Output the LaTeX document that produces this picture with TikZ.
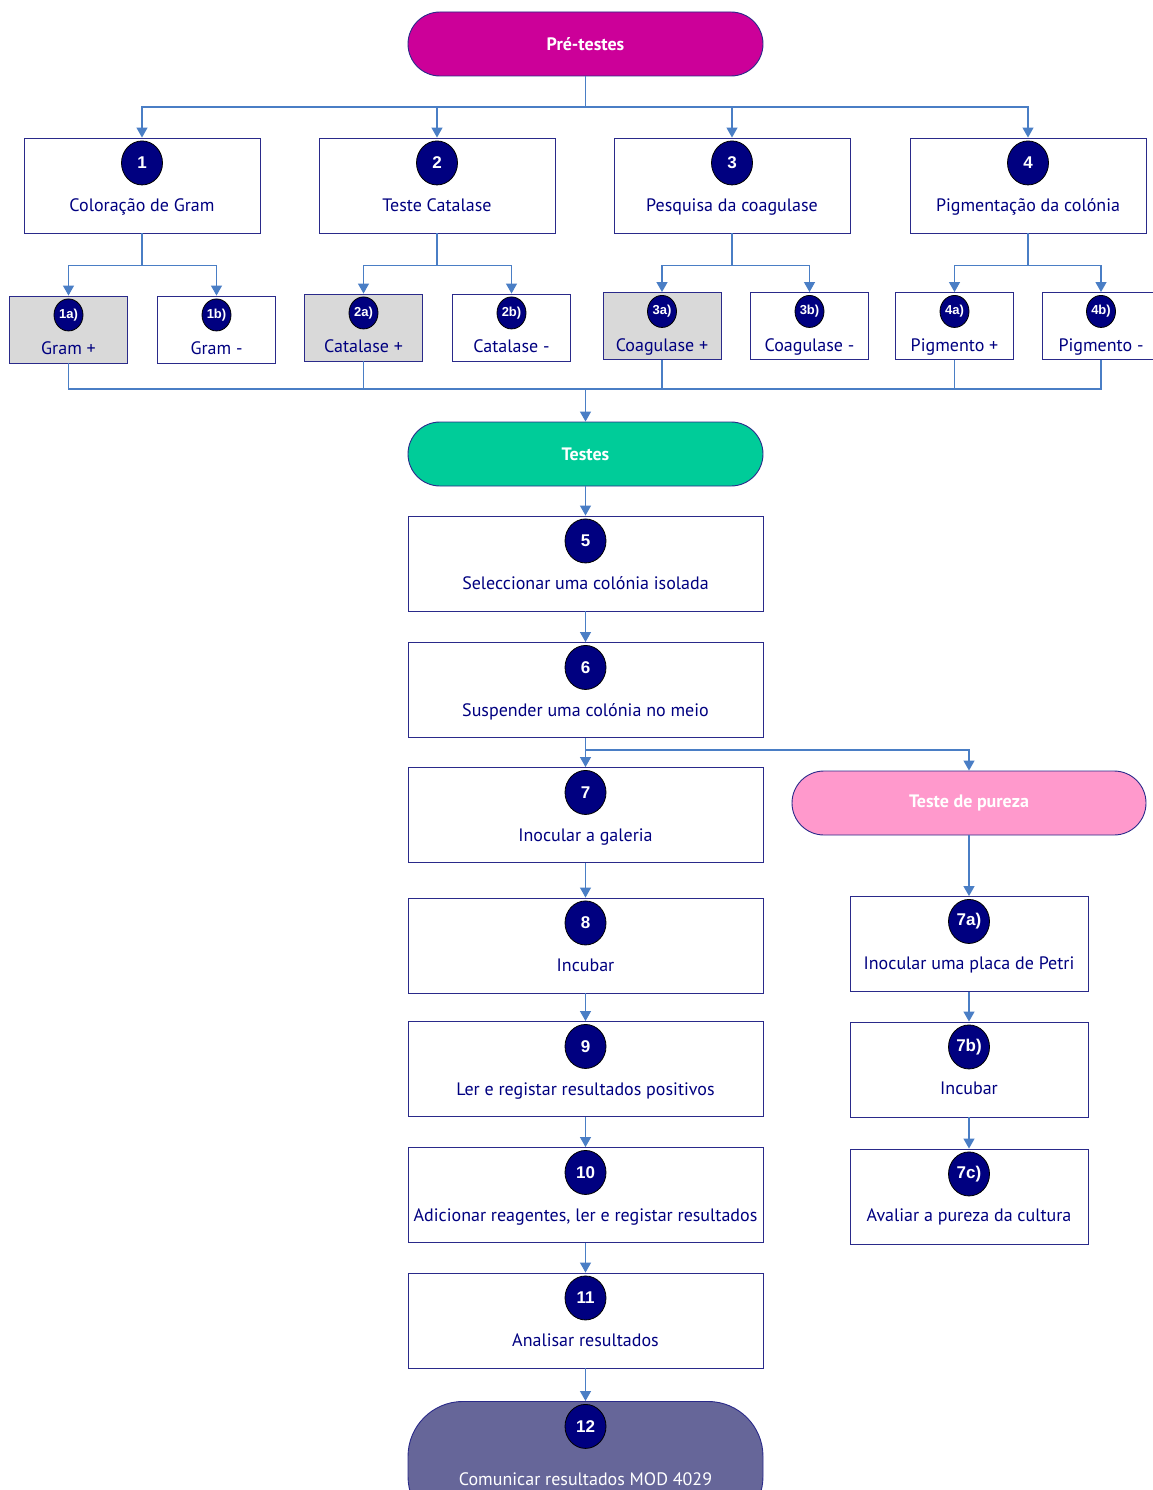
\documentclass[tikz,border=0pt]{standalone}
\usepackage{fontspec}
\setmainfont{PT Sans}
\newfontfamily\dotfont{Liberation Sans}
\usepackage{tikz}
\usetikzlibrary{arrows.meta,positioning,calc,shapes.geometric}
\definecolor{lbnavy}{HTML}{000080}
\definecolor{lbedge}{HTML}{2A2A8A}
\definecolor{lblink}{HTML}{4A7EC5}
\definecolor{lbgrey}{HTML}{D9D9D9}
\definecolor{lbmagenta}{HTML}{CC0099}
\definecolor{lbgreen}{HTML}{00CC99}
\definecolor{lbpink}{HTML}{FF99CC}
\definecolor{lbslate}{HTML}{666699}
\tikzset{
  flowarrow/.style={-{Triangle[length=10pt,width=11pt]}, line width=1.2pt, draw=lblink},
  flowline/.style={line width=1.2pt, draw=lblink},
  stepbox/.style={draw=lbedge, line width=0.9pt, fill=white, inner sep=0pt,
    minimum width=355pt, minimum height=95pt},
  subbox/.style={draw=lbedge, line width=0.9pt, fill=white, inner sep=0pt,
    minimum width=118pt, minimum height=67pt},
  hitbox/.style={subbox, fill=lbgrey},
  terminal/.style={draw=lbedge, line width=0.9pt, rounded corners=32pt, inner sep=0pt,
    minimum width=355pt, minimum height=64pt, text=white,
    font=\bfseries\fontsize{18}{20}\selectfont},
  numdot/.style={ellipse, draw=black, line width=0.8pt, fill=lbnavy, inner sep=0pt,
    minimum width=41pt, minimum height=44pt, text=white,
    font=\dotfont\bfseries\fontsize{17}{19}\selectfont},
  subdot/.style={numdot, minimum width=29pt, minimum height=32pt,
    font=\dotfont\bfseries\fontsize{13}{15}\selectfont},
  steptext/.style={inner sep=0pt, anchor=base, text=lbnavy, font=\fontsize{18}{20}\selectfont}
}
\begin{document}
\begin{tikzpicture}[x=1pt, y=-1pt]
\useasboundingbox (0,0) rectangle (1152,1490);

% pre-tests
\node[terminal, fill=lbmagenta] (pre) at (585.5,44) {Pré-testes};
\foreach \i/\x/\t in {1/142/{Coloração de Gram}, 2/437/{Teste Catalase},
    3/732/{Pesquisa da coagulase}, 4/1028/{Pigmentação da colónia}} {
  \node[stepbox, minimum width=236pt] (s\i) at (\x,185.5) {};
  \node[numdot, below=3pt of s\i.north] (d\i) {\i};
  \node[steptext] (t\i) at ($(s\i.north)+(0,74)$) {\t};
}

% results of the pre-tests
\foreach \n/\x/\y/\s/\l/\t in {pos1/68.5/329.5/hitbox/1a/{Gram +}, neg1/216.5/329.5/subbox/1b/{Gram -},
    pos2/363.5/327.5/hitbox/2a/{Catalase +}, neg2/511.5/327.5/subbox/2b/{Catalase -},
    pos3/662/326/hitbox/3a/{Coagulase +}, neg3/809.5/326/subbox/3b/{Coagulase -},
    pos4/954.5/326/subbox/4a/{Pigmento +}, neg4/1101/326/subbox/4b/{Pigmento -}} {
  \node[\s] (\n) at (\x,\y) {};
  \node[subdot, below=3pt of \n.north] (d\n) {\l)};
  \node[steptext] (t\n) at ($(\n.north)+(0,59)$) {\t};
}

\coordinate (bus1) at (585.5,107);
\coordinate (bus2) at (585.5,389);
\draw[flowline] (pre) -- (bus1);
\foreach \i in {1,...,4} {
  \draw[flowarrow] (bus1) -| (s\i.north);
  \draw[flowarrow] (s\i.south) -- ++(0,32) -| (pos\i.north);
  \draw[flowarrow] (s\i.south) -- ++(0,32) -| (neg\i.north);
}
\foreach \n in {pos1,pos2,pos3,pos4,neg4}
  \draw[flowline] (\n.south) |- (bus2);

% tests
\node[terminal, fill=lbgreen] (testes) at (585.5,454) {Testes};
\draw[flowarrow] (bus2) -- (testes.north);

\foreach \i/\y/\t in {5/563.5/{Seleccionar uma colónia isolada}, 6/690/{Suspender uma colónia no meio},
    7/815/{Inocular a galeria}, 8/945.5/{Incubar}, 9/1069/{Ler e registar resultados positivos},
    10/1195/{Adicionar reagentes, ler e registar resultados}, 11/1320.5/{Analisar resultados}} {
  \node[stepbox] (s\i) at (585.5,\y) {};
  \node[numdot, below=3pt of s\i.north] (d\i) {\i};
  \node[steptext] (t\i) at ($(s\i.north)+(0,74)$) {\t};
}

\node[terminal, fill=lbslate, minimum height=130pt, rounded corners=55pt,
  anchor=north] (s12) at (585.5,1401) {};
\node[numdot, below=3pt of s12.north] (d12) {12};
\node[steptext, text=white] (t12) at ($(s12.north)+(0,84)$) {Comunicar resultados MOD 4029};

% purity test
\node[terminal, fill=lbpink, minimum width=354pt] (pureza) at (969,803) {Teste de pureza};
\foreach \i/\y/\t in {7a/944/{Inocular uma placa de Petri}, 7b/1069.5/{Incubar},
    7c/1196.5/{Avaliar a pureza da cultura}} {
  \node[stepbox, minimum width=238pt] (s\i) at (969,\y) {};
  \node[numdot, below=3pt of s\i.north] (d\i) {\i)};
  \node[steptext] (t\i) at ($(s\i.north)+(0,73)$) {\t};
}

\foreach \a/\b in {testes/s5, s5/s6, s6/s7, s7/s8, s8/s9, s9/s10, s10/s11, s11/s12,
    pureza/s7a, s7a/s7b, s7b/s7c}
  \draw[flowarrow] (\a.south) -- (\b.north);
\coordinate (fork) at (585.5,750);
\draw[flowarrow] (fork) -| (pureza.north);
\end{tikzpicture}
\end{document}
